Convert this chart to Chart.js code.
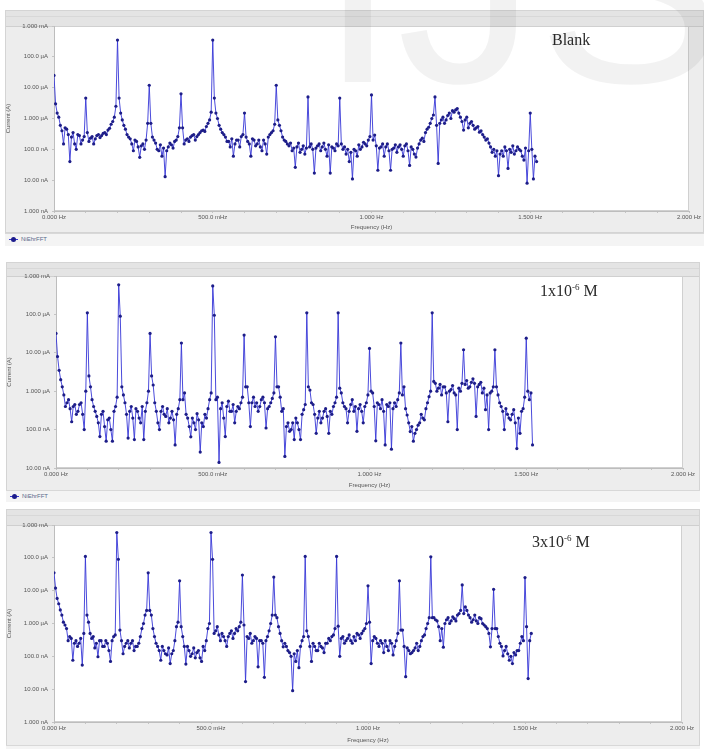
<!DOCTYPE html>
<html>
<head>
<meta charset="utf-8">
<script src="https://cdn.jsdelivr.net/npm/chart.js@4.4.1/dist/chart.umd.min.js"></script>
<style>
    html, body { margin: 0; padding: 0; background: #fff; }
    body { width: 704px; height: 749px; position: relative; overflow: hidden; font-family: "Liberation Sans", Arial, sans-serif; }
    .panel { position: absolute; }
    .frame { position: absolute; left: 0; top: 0; right: 0; background: #ededed; border: 1px solid #d4d4d4; box-sizing: border-box; }
    .header { position: absolute; left: 0; right: 0; top: 0; height: 15px; background: #e4e4e4; border-bottom: 1px solid #cfcfcf; }
    .header::after { content: ''; position: absolute; left: 0; right: 0; top: 5px; border-top: 1px solid #d8d8d8; }
    .panel canvas { position: absolute; left: 0; top: 0; }
    .legend { position: absolute; left: 0; right: 0; background: #f4f4f4; border-top: 1px solid #d8d8d8; font-size: 6px; color: #5a6a8a; }
    .legend .mk { position: absolute; left: 4px; top: 5px; width: 9px; border-top: 1px solid #3a3ad0; }
    .legend .mk::after { content: ''; position: absolute; left: 2px; top: -3px; width: 5px; height: 5px; border-radius: 50%; background: #1c1c8c; }
    .legend .txt { position: absolute; left: 16px; top: 2px; }
    .tag { position: absolute; font-family: "Liberation Serif", "Times New Roman", serif; font-size: 16px; color: #2a2a2a; white-space: nowrap; }
    .tag sup { font-size: 9px; }
    .wm { position: absolute; left: 319px; top: -155px; font-size: 280px; line-height: 1; color: rgba(0,0,0,0.05); pointer-events: none; z-index: 10; white-space: nowrap; }
</style>
</head>
<body>

<div class="panel" id="p1" style="left:5px; top:10px; width:699px; height:235px;">
    <div class="frame" style="height:223px;"><div class="header"></div></div>
    <canvas id="c1" width="699" height="222"></canvas>
    <div class="legend" style="top:223px; height:12px;"><span class="mk"></span><span class="txt">NiEhrFFT</span></div>
</div>
<div class="panel" id="p2" style="left:6px; top:262px; width:694px; height:239px;">
    <div class="frame" style="height:229px;"><div class="header" style="height:13px;"></div></div>
    <canvas id="c2" width="694" height="228"></canvas>
    <div class="legend" style="top:228px; height:11px;"><span class="mk"></span><span class="txt">NiEhrFFT</span></div>
</div>
<div class="panel" id="p3" style="left:6px; top:509px; width:694px; height:246px;">
    <div class="frame" style="height:237px;"><div class="header"></div></div>
    <canvas id="c3" width="694" height="236"></canvas>
    <div class="legend" style="top:236px; height:10px;"><span class="mk"></span><span class="txt">NiEhrFFT</span></div>
</div>

<div class="tag" style="left:552px; top:31px;">Blank</div>
<div class="tag" style="left:540px; top:282px;">1x10<sup>-6</sup> M</div>
<div class="tag" style="left:532px; top:533px;">3x10<sup>-6</sup> M</div>

<div class="wm">IJS</div>

<script>
// --- Data: FFT current in nA, one value every 0.005 Hz from 0 Hz (each row = 0.1 Hz) ---
const freqStep = 0.005;

const blankCurrent = [
    25000, 3000, 1500, 1100, 600, 400, 150, 500, 450, 300, 40, 250, 350, 150, 100, 300, 280, 150, 200, 260,
    4600, 350, 180, 230, 260, 150, 220, 280, 300, 240, 280, 330, 350, 300, 420, 480, 650, 800, 1100, 2500,
    350000, 4600, 1500, 900, 600, 450, 300, 250, 220, 150, 90, 200, 180, 120, 55, 130, 150, 100, 200, 700,
    12000, 700, 250, 200, 160, 100, 90, 140, 60, 110, 13, 90, 120, 160, 140, 110, 180, 200, 260, 500,
    6300, 500, 150, 200, 220, 180, 250, 280, 300, 200, 260, 300, 350, 400, 420, 380, 550, 700, 900, 1600,
    350000, 4600, 1500, 1000, 600, 450, 350, 300, 250, 180, 180, 120, 220, 60, 150, 200, 200, 120, 260, 300,
    1500, 250, 180, 150, 60, 220, 200, 130, 150, 200, 120, 90, 200, 150, 70, 250, 300, 350, 400, 650,
    12000, 900, 600, 400, 250, 200, 180, 150, 130, 160, 90, 110, 26, 120, 160, 80, 100, 130, 70, 110,
    5000, 120, 150, 100, 17, 110, 130, 150, 90, 120, 160, 100, 60, 140, 17, 120, 110, 90, 150, 130,
    4600, 150, 100, 120, 70, 100, 40, 80, 11, 100, 90, 60, 140, 100, 120, 170, 150, 130, 200, 260,
    5800, 200, 290, 130, 21, 110, 120, 150, 60, 120, 150, 90, 21, 100, 110, 140, 80, 120, 140, 100,
    60, 130, 150, 90, 30, 120, 100, 70, 56, 110, 150, 200, 230, 180, 350, 450, 520, 700, 1000, 1300,
    5000, 600, 35, 700, 900, 1100, 700, 900, 1250, 1500, 1000, 1800, 1600, 1900, 2100, 1500, 1100, 800, 420, 900,
    1100, 500, 700, 800, 600, 450, 500, 550, 360, 400, 300, 250, 200, 220, 160, 120, 80, 100, 60, 90,
    14, 70, 90, 60, 120, 90, 24, 100, 80, 130, 70, 90, 120, 100, 90, 60, 45, 110, 8, 90,
    1500, 100, 11, 60, 40
];

const lowCurrent = [
    32000, 8000, 3500, 2000, 1300, 800, 400, 500, 600, 350, 160, 400, 450, 250, 300, 450, 500, 250, 100, 1000,
    110000, 2500, 1300, 600, 400, 300, 220, 150, 66, 250, 300, 120, 50, 180, 200, 100, 50, 300, 400, 700,
    590000, 90000, 1300, 800, 500, 250, 60, 300, 400, 200, 55, 350, 300, 200, 150, 400, 55, 300, 500, 1000,
    32000, 2500, 1450, 500, 300, 150, 100, 300, 400, 250, 220, 350, 150, 200, 300, 180, 40, 250, 350, 600,
    18000, 600, 900, 250, 200, 120, 65, 200, 150, 100, 260, 180, 26, 150, 120, 250, 200, 350, 600, 900,
    550000, 95000, 600, 700, 14, 350, 500, 200, 66, 400, 550, 300, 300, 450, 150, 300, 400, 350, 500, 700,
    29000, 1300, 1300, 500, 120, 500, 700, 400, 500, 300, 400, 600, 700, 500, 110, 350, 400, 500, 650, 900,
    26000, 1300, 1300, 700, 300, 350, 20, 120, 150, 90, 100, 150, 55, 200, 150, 100, 55, 250, 330, 450,
    110000, 1300, 1070, 500, 450, 250, 80, 200, 300, 150, 200, 300, 350, 220, 80, 300, 250, 400, 500, 700,
    110000, 1200, 900, 500, 400, 350, 150, 300, 450, 600, 300, 400, 90, 350, 450, 300, 150, 400, 500, 800,
    13000, 1000, 900, 400, 51, 500, 450, 350, 600, 300, 40, 450, 400, 500, 31, 350, 500, 400, 600, 900,
    18000, 800, 1300, 350, 240, 150, 89, 120, 50, 80, 100, 130, 150, 250, 200, 180, 350, 500, 720, 1000,
    110000, 1800, 1600, 1000, 1200, 1500, 800, 1300, 1300, 900, 160, 1000, 1100, 1400, 900, 800, 100, 1200, 1000, 1600,
    12000, 1500, 1900, 1200, 1300, 1700, 2100, 1600, 220, 1300, 1500, 1700, 900, 1200, 330, 800, 100, 900, 1000, 1300,
    12000, 1300, 800, 500, 400, 300, 100, 350, 250, 200, 180, 250, 330, 150, 32, 200, 80, 300, 350, 700,
    24000, 1000, 600, 900, 40
];

const highCurrent = [
    35000, 12000, 5800, 4000, 2600, 1800, 1100, 900, 700, 300, 400, 350, 76, 250, 300, 200, 250, 350, 54, 500,
    110000, 1800, 1100, 500, 350, 400, 180, 250, 97, 300, 300, 200, 200, 300, 250, 150, 70, 300, 400, 450,
    590000, 90000, 630, 300, 120, 200, 250, 300, 180, 250, 300, 150, 200, 200, 250, 400, 700, 1000, 1800, 2500,
    35000, 2500, 1800, 700, 400, 250, 200, 150, 76, 200, 150, 120, 110, 180, 60, 120, 150, 300, 800, 1100,
    20000, 800, 400, 200, 58, 200, 150, 100, 120, 180, 90, 130, 150, 90, 70, 200, 150, 300, 700, 1000,
    590000, 90000, 500, 600, 800, 450, 300, 500, 400, 300, 200, 400, 500, 600, 350, 500, 700, 600, 800, 1100,
    30000, 900, 17, 400, 350, 500, 250, 300, 400, 350, 48, 300, 300, 250, 23, 300, 400, 600, 1000, 1800,
    26000, 1800, 1500, 800, 500, 300, 195, 250, 200, 150, 130, 100, 9, 120, 70, 150, 45, 200, 300, 400,
    110000, 600, 400, 200, 70, 250, 200, 150, 150, 250, 200, 180, 130, 250, 250, 350, 300, 400, 450, 700,
    110000, 830, 100, 350, 400, 250, 300, 350, 450, 300, 250, 400, 300, 500, 450, 350, 500, 600, 700, 1000,
    14000, 1100, 60, 300, 400, 350, 250, 200, 300, 250, 130, 300, 200, 150, 300, 250, 110, 200, 300, 500,
    20000, 630, 630, 200, 24, 180, 150, 120, 130, 150, 180, 250, 150, 200, 300, 400, 450, 700, 1000, 1500,
    107000, 1500, 1500, 1300, 1200, 800, 300, 700, 190, 1000, 1300, 1500, 1000, 1200, 1600, 1400, 1200, 1800, 2000, 2500,
    15000, 2000, 3200, 2500, 1800, 1500, 1100, 1300, 1800, 1200, 1000, 1500, 1400, 1000, 900, 800, 700, 500, 195, 700,
    11000, 700, 700, 400, 250, 200, 103, 150, 200, 120, 76, 100, 60, 130, 110, 150, 150, 250, 400, 300,
    25000, 800, 21, 300, 500
];

// Axis labels
const yTickValues = [1, 10, 100, 1000, 10000, 100000, 1000000];
const yTickText = ['1.000 nA', '10.00 nA', '100.0 nA', '1.000 µA', '10.00 µA', '100.0 µA', '1.000 mA'];
const xTickValues = [0, 0.5, 1, 1.5, 2];
const xTickText = ['0.000 Hz', '500.0 mHz', '1.000 Hz', '1.500 Hz', '2.000 Hz'];

Chart.defaults.font.family = '"Liberation Sans", Arial, sans-serif';
Chart.defaults.font.size = 6;
Chart.defaults.color = '#555';

// white plot area with thin border
const plotBg = {
    id: 'plotBg',
    beforeDraw(chart) {
        const a = chart.chartArea;
        const c = chart.ctx;
        c.save();
        c.fillStyle = '#ffffff';
        c.fillRect(a.left, a.top, a.right - a.left, a.bottom - a.top);
        c.strokeStyle = '#d0d0d0';
        c.lineWidth = 1;
        c.strokeRect(a.left + 0.5, a.top + 0.5, a.right - a.left - 1, a.bottom - a.top - 1);
        c.restore();
    }
};

const makeChart = (canvasId, values, yMin, box) => {
    const canvas = document.getElementById(canvasId);
    const points = values.map((v, i) => ({ x: i * freqStep, y: v }));

    return new Chart(canvas.getContext('2d'), {
        type: 'line',
        data: {
            datasets: [{
                label: 'NiEhrFFT',
                data: points,
                borderColor: 'rgba(55, 55, 215, 0.9)',
                borderWidth: 1,
                pointRadius: 1.6,
                pointBackgroundColor: '#1d1d88',
                pointBorderWidth: 0,
                tension: 0
            }]
        },
        options: {
            responsive: false,
            animation: false,
            devicePixelRatio: 1,
            layout: {
                autoPadding: false,
                padding: { left: 0, top: box.top, right: canvas.width - box.right, bottom: 0 }
            },
            plugins: { legend: { display: false }, tooltip: { enabled: false } },
            scales: {
                x: {
                    type: 'linear',
                    min: 0,
                    max: 2,
                    afterFit: (s) => { s.height = canvas.height - box.bottom; },
                    afterBuildTicks: (s) => {
                        const t = [];
                        for (let k = 0; k <= 20; k++) t.push({ value: k / 10 });
                        s.ticks = t;
                    },
                    ticks: {
                        autoSkip: false,
                        maxRotation: 0,
                        padding: 1,
                        callback: (v) => {
                            const idx = xTickValues.findIndex(t => Math.abs(t - v) < 1e-6);
                            return idx >= 0 ? xTickText[idx] : '';
                        }
                    },
                    grid: { drawOnChartArea: false, drawTicks: true, tickLength: 2, color: '#c4c4c4' },
                    border: { display: true, color: '#bdbdbd' },
                    title: { display: true, text: 'Frequency (Hz)', font: { size: 6 }, padding: { top: 0, bottom: 1 } }
                },
                y: {
                    type: 'logarithmic',
                    min: yMin,
                    max: 1000000,
                    afterFit: (s) => { s.width = box.left; },
                    afterBuildTicks: (s) => {
                        s.ticks = yTickValues.filter(v => v >= yMin).map(v => ({ value: v }));
                    },
                    ticks: {
                        padding: 4,
                        callback: (v) => {
                            const idx = yTickValues.indexOf(v);
                            return idx >= 0 ? yTickText[idx] : '';
                        }
                    },
                    grid: { drawOnChartArea: false, drawTicks: true, tickLength: 2, color: '#c4c4c4' },
                    border: { display: true, color: '#bdbdbd' },
                    title: { display: true, text: 'Current (A)', font: { size: 6 }, padding: { top: 0, bottom: 0 } }
                }
            }
        },
        plugins: [plotBg]
    });
};

makeChart('c1', blankCurrent, 1, { left: 49, top: 16, right: 684, bottom: 201 });
makeChart('c2', lowCurrent, 10, { left: 50, top: 14, right: 677, bottom: 206 });
makeChart('c3', highCurrent, 1, { left: 48, top: 16, right: 676, bottom: 213 });
</script>
</body>
</html>
